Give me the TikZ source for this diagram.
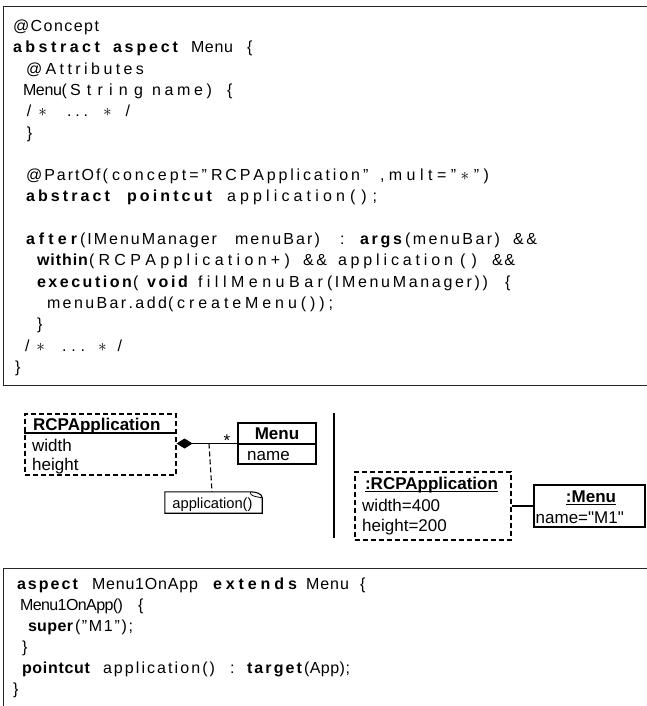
\documentclass[tikz,border=0pt]{standalone}
\usepackage{fontspec}
\setmainfont{Liberation Sans}[Ligatures=TeXOff]
\usetikzlibrary{arrows.meta}

% character-spread token: #2 is set across a box of width #1 (pt)
\newcommand\spr[2]{\makebox[#1pt][s]{\sprA#2\relax}}
\def\sprA#1{#1\sprB}
\def\sprB#1{\ifx\relax#1\else\hss#1\expandafter\sprB\fi}
\newcommand\astx{\ensuremath{\ast}}
\newcommand\codefont{\fontsize{16}{19}\selectfont}
\newcommand\umlfont{\fontsize{17}{20}\selectfont}

\begin{document}
\begin{tikzpicture}[x=1pt,y=-1pt,
  code/.style={anchor=base west, inner sep=0pt, outer sep=0pt, font=\codefont},
  kw/.style={code, font=\codefont\bfseries},
  uml/.style={anchor=base west, inner sep=0pt, font=\umlfont},
  umlb/.style={uml, font=\umlfont\bfseries},
  frame/.style={draw=black!85, line width=1pt},
  dbox/.style={draw, line width=1.1pt, dash pattern=on 5pt off 3pt, inner sep=0pt},
  sbox/.style={draw, line width=1.1pt, inner sep=0pt},
  conn/.style={line width=1.1pt}]
\useasboundingbox (0,0) rectangle (646,706);

% ---------- aspect Menu listing ----------
\draw[frame] (652,7) -- (3,7) -- (3,385) -- (652,385);
\node[code] (a1) at (13,31.5) {\spr{86}{@Concept}};
\node[kw]   (a2a) at (13,52.8) {\spr{87}{abstract}};
\node[kw]   (a2b) at (113,52.8) {\spr{65}{aspect}};
\node[code] (a2c) at (191,52.8) {\spr{42}{Menu}};
\node[code] (a2d) at (247,52.8) {\{};
\node[code] (a3) at (26,74.1) {\spr{118}{@Attributes}};
\node[code] (a4a) at (23,95.4) {\spr{44}{Menu(}};
\node[code] (a4b) at (70,95.4) {\spr{73}{String}};
\node[code] (a4c) at (152,95.4) {\spr{60}{name)}};
\node[code] (a4d) at (227,95.4) {\{};
\node[code] (a5a) at (27,116.7) {\spr{20}{/\astx}};
\node[code] (a5b) at (67,116.7) {\spr{21}{...}};
\node[code] (a5c) at (103,116.7) {\spr{27}{\astx/}};
\node[code] (a6) at (27,138) {\}};
\node[code] (a8a) at (26,180.6) {\spr{82}{@PartOf(}};
\node[code] (a8b) at (112,180.6) {\spr{95}{concept=”}};
\node[code] (a8c) at (211,180.6) {\spr{149}{RCPApplication}};
\node[code] (a8d) at (363,180.6) {”};
\node[code] (a8e) at (380,180.6) {\spr{109}{,mult=”\astx”)}};
\node[kw]   (a9a) at (26,201.9) {\spr{84}{abstract}};
\node[kw]   (a9b) at (127,201.9) {\spr{85}{pointcut}};
\node[code] (a9c) at (227,201.9) {\spr{118}{application}};
\node[code] (a9d) at (350,201.9) {\spr{27}{();}};
\node[kw]   (a11a) at (26,244.5) {\spr{51}{after}};
\node[code] (a11b) at (80,244.5) {\spr{137}{(IMenuManager}};
\node[code] (a11c) at (235,244.5) {\spr{85}{menuBar)}};
\node[code] (a11d) at (340,244.5) {:};
\node[kw]   (a11e) at (360,244.5) {\spr{42}{args}};
\node[code] (a11f) at (405,244.5) {\spr{95}{(menuBar)}};
\node[code] (a11g) at (513,244.5) {\spr{24}{\&\&}};
\node[kw]   (a12a) at (37,265.8) {\spr{51}{within}};
\node[code] (a12b) at (89,265.8) {\spr{201}{(RCPApplication+)}};
\node[code] (a12c) at (303,265.8) {\spr{24}{\&\&}};
\node[code] (a12d) at (338,265.8) {\spr{115}{application}};
\node[code] (a12e) at (460,265.8) {\spr{17}{()}};
\node[code] (a12f) at (492,265.8) {\spr{23}{\&\&}};
\node[kw]   (a13a) at (37,287.1) {\spr{95}{execution}};
\node[code] (a13b) at (133,287.1) {(};
\node[kw]   (a13c) at (147,287.1) {\spr{41}{void}};
\node[code] (a13d) at (198,287.1) {\spr{125}{fillMenuBar}};
\node[code] (a13e) at (327,287.1) {\spr{161}{(IMenuManager))}};
\node[code] (a13f) at (505,287.1) {\{};
\node[code] (a14a) at (47,308.4) {\spr{120}{menuBar.add}};
\node[code] (a14b) at (168,308.4) {\spr{165}{(createMenu());}};
\node[code] (a15) at (37,329.7) {\}};
\node[code] (a16a) at (25,351) {\spr{20}{/\astx}};
\node[code] (a16b) at (62,351) {\spr{23}{...}};
\node[code] (a16c) at (98,351) {\spr{24}{\astx/}};
\node[code] (a17) at (15,372.3) {\}};

% ---------- class diagram ----------
\node[dbox, minimum width=151, minimum height=61] (rcp) at (100.5,444.5) {};
\draw[conn] (rcp.west |- 0,433) -- (rcp.east |- 0,433);
\node[umlb] (rcpname) at (33,430) {RCPApplication};
\node[uml] (rcpw) at (32,451) {width};
\node[uml] (rcph) at (32,470) {height};

\node[sbox, minimum width=78, minimum height=41] (menu) at (277,443.5) {};
\draw[conn] (menu.west |- 0,444) -- (menu.east |- 0,444);
\node[umlb, anchor=base] (menuname) at (277,439) {Menu};
\node[uml] (menuattr) at (247,460) {name};

\draw[conn, {Diamond[length=16pt,width=10pt]}-] (rcp.east |- menu.west) -- (menu.west);
\node[uml, anchor=base] (mult) at (227,446.5) {*};
\coordinate (assoc) at (209,443.5);

\node[inner sep=0pt, minimum width=97, minimum height=21] (note) at (213.5,502.5) {};
\draw[conn] (note.north west) -- ([xshift=-12pt]note.north east)
  .. controls ([xshift=-6pt]note.north east) and ([yshift=-2pt]note.north east) ..
  ([yshift=-6pt]note.north east) -- (note.south east) -- (note.south west) -- cycle;
\draw[line width=0.8pt] ([xshift=-12pt]note.north east)
  .. controls ([xshift=-11pt,yshift=-4pt]note.north east) .. ([yshift=-6pt]note.north east);
\node[anchor=base, inner sep=0pt, font=\fontsize{14.7}{17}\selectfont] (notetext) at (212.5,508) {application()};
\draw[conn, dash pattern=on 5pt off 3pt] (assoc) -- ([xshift=-1.5pt]note.north);

% ---------- divider ----------
\coordinate (divtop) at (334,413);
\coordinate (divbot) at (334,538);
\draw[conn] (divtop) -- (divbot);

% ---------- object diagram ----------
\node[dbox, minimum width=156, minimum height=68] (obj) at (433,506) {};
\node[umlb, anchor=base] (objname) at (431.5,489) {:RCPApplication};
\draw[line width=0.9pt] ([yshift=-2.2pt]objname.base west) -- ([yshift=-2.2pt]objname.base east);
\node[uml] (objw) at (362,511) {width=400};
\node[uml] (objh) at (362,531.5) {height=200};

\node[sbox, minimum width=111, minimum height=42] (mobj) at (589.5,506) {};
\node[umlb, anchor=base] (mobjname) at (591,502) {:Menu};
\draw[line width=0.9pt] ([yshift=-2.2pt]mobjname.base west) -- ([yshift=-2.2pt]mobjname.base east);
\node[uml] (mobjattr) at (535.5,523) {name="M1"};
\draw[conn] (obj.east) -- (mobj.west);

% ---------- Menu1OnApp listing ----------
\draw[frame] (652,568) -- (3,568) -- (3,712);
\node[kw]   (b1a) at (17,589) {\spr{61}{aspect}};
\node[code] (b1b) at (92,589) {\spr{106}{Menu1OnApp}};
\node[kw]   (b1c) at (213,589) {\spr{84}{extends}};
\node[code] (b1d) at (306,589) {\spr{43}{Menu}};
\node[code] (b1e) at (360,589) {\{};
\node[code] (b2a) at (20,610) {\spr{103}{Menu1OnApp()}};
\node[code] (b2b) at (138,610) {\{};
\node[kw]   (b3a) at (28,631) {\spr{45}{super}};
\node[code] (b3b) at (75,631) {\spr{58}{(”M1”);}};
\node[code] (b4) at (22,652) {\}};
\node[kw]   (b5a) at (22,673) {\spr{68}{pointcut}};
\node[code] (b5b) at (103,673) {\spr{112}{application()}};
\node[code] (b5c) at (230,673) {:};
\node[kw]   (b5d) at (247,673) {\spr{55}{target}};
\node[code] (b5e) at (304,673) {\spr{46}{(App);}};
\node[code] (b6) at (13,694) {\}};
\end{tikzpicture}
\end{document}
